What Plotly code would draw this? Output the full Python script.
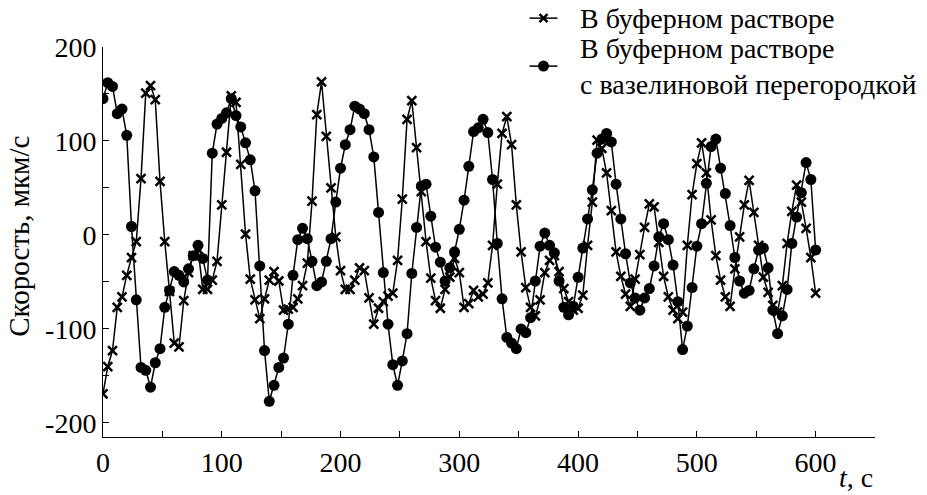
import plotly.graph_objects as go

# Sampling times, s
TIME_S = [
    0, 4, 8, 12, 16, 20, 24, 28, 32, 36, 40, 44, 48, 52, 56, 60, 64, 68, 72, 76,
    80, 84, 88, 92, 96, 100, 104, 108, 112, 116, 120, 124, 128, 132, 136, 140,
    144, 148, 152, 156, 160, 164, 168, 172, 176, 180, 184, 188, 192, 196, 200,
    204, 208, 212, 216, 220, 224, 228, 232, 236, 240, 244, 248, 252, 256, 260,
    264, 268, 272, 276, 280, 284, 288, 292, 296, 300, 304, 308, 312, 316, 320,
    324, 328, 332, 336, 340, 344, 348, 352, 356, 360, 364, 368, 372, 376, 380,
    384, 388, 392, 396, 400, 404, 408, 412, 416, 420, 424, 428, 432, 436, 440,
    444, 448, 452, 456, 460, 464, 468, 472, 476, 480, 484, 488, 492, 496, 500,
    504, 508, 512, 516, 520, 524, 528, 532, 536, 540, 544, 548, 552, 556, 560,
    564, 568, 572, 576, 580, 584, 588, 592, 596, 600,
]

# Velocity in plain buffer, um/s
V_BUFFER = [
    -169, -140, -123, -77, -66, -43, -24, -7, 60, 151,
    159, 144, 57, -7, -60, -115, -119, -70, -40, -22,
    -15, -58, -58, -48, -28, 32, 88, 148, 141, 75,
    1, -47, -69, -89, -68, -48, -39, -49, -80, -79,
    -77, -68, -54, -30, 36, 128, 163, 105, 50, -2,
    -38, -58, -58, -48, -35, -38, -67, -95, -78, -71,
    -65, -62, -27, 38, 123, 143, 93, 46, -7, -46,
    -70, -78, -58, -45, -25, -40, -77, -73, -59, -66,
    -63, -51, -11, 54, 108, 126, 96, 32, -18, -56,
    -77, -86, -69, -40, -27, -22, -39, -57, -71, -80,
    -78, -64, -11, 35, 101, 92, 66, 26, -18, -44,
    -63, -76, -47, -21, 8, 33, 30, -8, -44, -66,
    -80, -89, -82, -11, 43, 76, 98, 66, 16, -22,
    -48, -66, -76, -36, -2, 32, 58, 24, -11, -45,
    -61, -75, -82, -54, -9, 25, 53, 35, 7, -24,
    -62,
]

# Velocity in buffer with vaseline partition, um/s
V_PARTITION = [
    145, 162, 158, 129, 134, 106, 9, -69, -141, -144,
    -162, -136, -121, -77, -59, -39, -43, -50, -36, -22,
    -11, -25, -48, 87, 118, 124, 130, 145, 127, 115,
    98, 80, 47, -33, -123, -177, -160, -141, -131, -95,
    -43, -5, 7, -4, -28, -54, -50, -28, -4, 35,
    71, 96, 112, 137, 134, 129, 112, 83, 24, -40,
    -95, -138, -160, -134, -105, -41, 8, 52, 54, 20,
    -13, -29, -49, -35, -18, 6, 37, 73, 110, 114,
    123, 109, 59, -9, -68, -109, -115, -121, -100, -104,
    -88, -49, -12, 2, -11, -19, -49, -77, -85, -76,
    -45, -14, 17, 48, 87, 102, 108, 99, 54, 17,
    -20, -51, -67, -80, -67, -57, -33, -2, 12, -5,
    -32, -71, -122, -97, -56, -12, 12, 55, 94, 102,
    71, 44, 10, -24, -49, -62, -59, -36, -16, -14,
    -35, -80, -105, -86, -58, -9, 19, 45, 77, 59,
    -16,
]

LABEL_BUFFER = "В буферном растворе"
LABEL_PARTITION = "В буферном растворе<br>с вазелиновой перегородкой"
Y_TITLE = "Скорость, мкм/с"
X_TITLE = "<i>t</i>, с"
X_TICKS = [0, 100, 200, 300, 400, 500, 600]
Y_TICKS = [-200, -100, 0, 100, 200]

FONT = "Liberation Serif"
FS = 28

x_minor = list(range(0, 651, 50))
y_minor = list(range(-200, 201, 50))

fig = go.Figure()

fig.add_trace(go.Scatter(
    x=TIME_S, y=V_PARTITION, name=LABEL_PARTITION.replace("<br>", " "),
    mode="lines+markers", showlegend=False,
    line=dict(color="black", width=1.5),
    marker=dict(symbol="circle", size=11, color="black"),
))
fig.add_trace(go.Scatter(
    x=TIME_S, y=V_BUFFER, name=LABEL_BUFFER,
    mode="lines+markers", showlegend=False,
    line=dict(color="black", width=1.5),
    marker=dict(symbol="x-thin-open", size=9, color="black",
                line=dict(color="black", width=2.5)),
))

# Legend key, drawn in the upper right above the plot area
KEY_X = 0.5706          # paper x of the key symbols
KEY_TEXT_X = 0.6153     # paper x where the key labels start
KEY_Y_BUFFER = 1.074
KEY_Y_PARTITION = 0.951


def key_line(y):
    return dict(type="line", xref="paper", yref="paper",
                xsizemode="pixel", ysizemode="pixel",
                xanchor=KEY_X, yanchor=y, x0=-14, x1=14, y0=0, y1=0,
                line=dict(color="black", width=1.5))


shapes = [
    key_line(KEY_Y_BUFFER),
    dict(type="line", xref="paper", yref="paper", xsizemode="pixel",
         ysizemode="pixel", xanchor=KEY_X, yanchor=KEY_Y_BUFFER,
         x0=-4, x1=4, y0=-4, y1=4, line=dict(color="black", width=2.5)),
    dict(type="line", xref="paper", yref="paper", xsizemode="pixel",
         ysizemode="pixel", xanchor=KEY_X, yanchor=KEY_Y_BUFFER,
         x0=-4, x1=4, y0=4, y1=-4, line=dict(color="black", width=2.5)),
    key_line(KEY_Y_PARTITION),
    dict(type="circle", xref="paper", yref="paper", xsizemode="pixel",
         ysizemode="pixel", xanchor=KEY_X, yanchor=KEY_Y_PARTITION,
         x0=-5.5, x1=5.5, y0=-5.5, y1=5.5, fillcolor="black",
         line=dict(color="black", width=0)),
]

annotations = [
    dict(text=LABEL_BUFFER, xref="paper", yref="paper", x=KEY_TEXT_X,
         y=KEY_Y_BUFFER, xanchor="left", yanchor="middle", showarrow=False,
         font=dict(family=FONT, size=FS)),
    dict(text=LABEL_PARTITION, xref="paper", yref="paper", x=KEY_TEXT_X,
         y=KEY_Y_PARTITION, xanchor="left", yanchor="middle", align="left",
         showarrow=False, font=dict(family=FONT, size=FS)),
    dict(text=Y_TITLE, xref="paper", yref="paper", x=-0.108, y=0.515,
         textangle=-90, showarrow=False, xanchor="center", yanchor="middle",
         font=dict(family=FONT, size=FS + 1)),
    dict(text=X_TITLE, xref="paper", yref="paper", x=1.0, y=-0.1026,
         showarrow=False, xanchor="right", yanchor="middle",
         font=dict(family=FONT, size=FS)),
]

fig.update_layout(
    width=927, height=495,
    margin=dict(l=103, r=52, t=47, b=58, autoexpand=False),
    paper_bgcolor="white", plot_bgcolor="white",
    font=dict(family=FONT, size=FS, color="black"),
    showlegend=False,
    xaxis=dict(
        range=[0, 650], showgrid=False, zeroline=False,
        showline=True, linecolor="black", linewidth=1,
        ticks="inside", ticklen=6, tickcolor="black",
        tickvals=x_minor,
        ticktext=[str(v) if v in X_TICKS else "" for v in x_minor],
        tickfont=dict(family=FONT, size=FS),
    ),
    yaxis=dict(
        range=[-215, 200], showgrid=False, zeroline=False,
        showline=True, linecolor="black", linewidth=1,
        ticks="inside", ticklen=6, tickcolor="black",
        tickvals=y_minor,
        ticktext=[(str(v) if v in Y_TICKS else "") for v in y_minor],
        tickfont=dict(family=FONT, size=FS),
    ),
    shapes=shapes,
    annotations=annotations,
)

fig.write_html("out.html")
